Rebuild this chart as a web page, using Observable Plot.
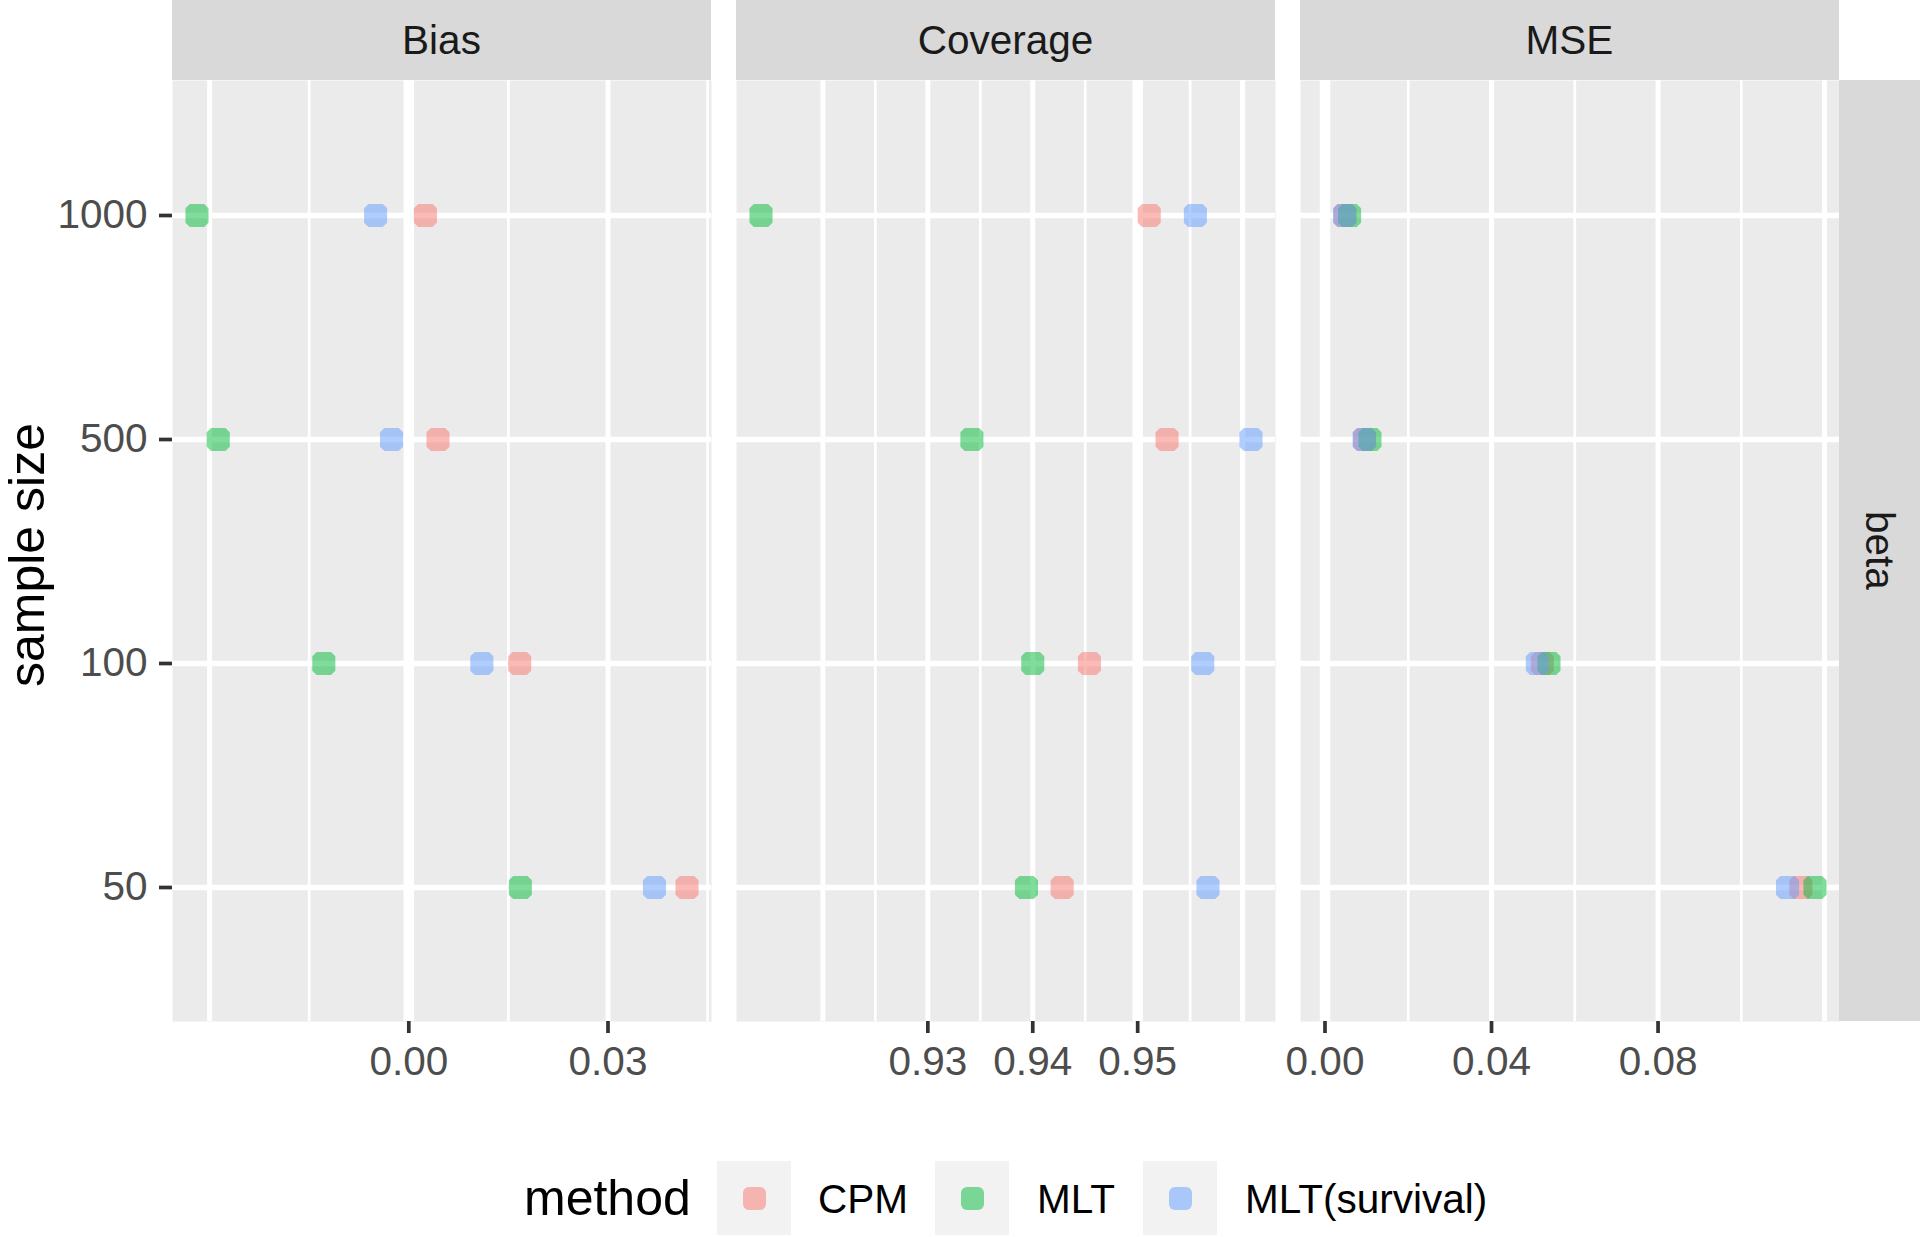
<!DOCTYPE html>
<html>
<head>
<meta charset="utf-8">
<script src="https://cdn.jsdelivr.net/npm/d3@7"></script>
<script src="https://cdn.jsdelivr.net/npm/@observablehq/plot@0.6"></script>
<style>
  html, body { margin: 0; padding: 0; background: #fff; }
  #chart { position: relative; width: 1920px; height: 1237px; overflow: hidden; font-family: "Liberation Sans", Arial, Helvetica, sans-serif; }
  .abs { position: absolute; }
  .strip { background: #D9D9D9; color: #1A1A1A; font-size: 40.5px; display: flex; align-items: center; justify-content: center; }
  .key { background: #F2F2F2; width: 74px; height: 74px; display: flex; align-items: center; justify-content: center; }
  .keydot { width: 23px; height: 23px; border-radius: 6px; }
  .legtext { font-size: 40.5px; color: #000; line-height: 1; }
  .vert { writing-mode: vertical-rl; white-space: nowrap; }
</style>
</head>
<body>
<div id="chart"></div>
<script>
// ---- data ----
const sampleSizes = ["1000", "500", "100", "50"];
const methods = ["CPM", "MLT", "MLT(survival)"];
const methodColors = ["#F8766D", "#00BA38", "#619CFF"];
const metrics = ["Bias", "Coverage", "MSE"];
const rowLabel = "beta";
const yTitle = "sample size";
const legendTitle = "method";

// values in the order of sampleSizes (1000, 500, 100, 50)
const biasCPM  = [0.0025, 0.0044, 0.0167, 0.0419];
const biasMLT  = [-0.0319, -0.0287, -0.0128, 0.0168];
const biasMLTs = [-0.0050, -0.0026, 0.0110, 0.0370];

const coverageCPM  = [0.9511, 0.9528, 0.9454, 0.9428];
const coverageMLT  = [0.9141, 0.9342, 0.9400, 0.9394];
const coverageMLTs = [0.9555, 0.9608, 0.9562, 0.9567];

const mseCPM  = [0.0048, 0.0095, 0.0522, 0.1143];
const mseMLT  = [0.0059, 0.0108, 0.0538, 0.1177];
const mseMLTs = [0.0047, 0.0094, 0.0510, 0.1111];

// axis ticks / grid
const biasTicks = [0, 0.03];
const biasMajor = [-0.03, 0, 0.03];
const biasMinor = [-0.015, 0.015, 0.045];
const biasRef = 0;

const coverageTicks = [0.93, 0.94, 0.95];
const coverageMajor = [0.92, 0.93, 0.94, 0.95, 0.96];
const coverageMinor = [0.925, 0.935, 0.945, 0.955];
const coverageRef = 0.95;

const mseTicks = [0, 0.04, 0.08];
const mseMajor = [0, 0.04, 0.08, 0.12];
const mseMinor = [0.02, 0.06, 0.10];
const mseRef = 0;

// ---- drawing ----
const roundSquare = {
  draw(ctx, size) {
    const h = Math.sqrt(size) / 2, c = h * 0.38;
    ctx.moveTo(-h + c, -h); ctx.lineTo(h - c, -h); ctx.lineTo(h, -h + c);
    ctx.lineTo(h, h - c); ctx.lineTo(h - c, h); ctx.lineTo(-h + c, h);
    ctx.lineTo(-h, h - c); ctx.lineTo(-h, -h + c); ctx.closePath();
  }
};

const chart = document.getElementById("chart");
const PANEL_TOP = 80, PANEL_BOTTOM = 1021, SVG_H = 1100, PANEL_W = 539;
const SMALL = 40.5, LARGE = 50;

function panel(cfg) {
  const rows = sampleSizes.flatMap((n, i) => methods.map((m, j) => ({n, method: m, value: cfg.series[j][i]})));
  const [lo, hi] = d3.extent(rows.map(d => d.value).concat([cfg.ref]));
  const pad = (hi - lo) * 0.05;
  const axisStyle = {stroke: "#333333", strokeWidth: 3.7, fill: "#4D4D4D", fontSize: SMALL};
  const svg = Plot.plot({
    width: cfg.marginLeft + PANEL_W,
    height: SVG_H,
    marginTop: PANEL_TOP,
    marginBottom: SVG_H - PANEL_BOTTOM,
    marginLeft: cfg.marginLeft,
    marginRight: 0,
    style: {fontFamily: '"Liberation Sans", Arial, Helvetica, sans-serif', fontSize: SMALL + "px", background: "transparent", overflow: "visible"},
    x: {domain: [lo - pad, hi + pad], label: null},
    y: {type: "point", domain: sampleSizes, padding: 0.6, label: null, axis: null},
    color: {domain: methods, range: methodColors},
    marks: [
      Plot.frame({fill: "#EBEBEB", stroke: "none"}),
      Plot.ruleX(cfg.minor, {stroke: "#fff", strokeWidth: 2.7}),
      Plot.ruleX(cfg.major, {stroke: "#fff", strokeWidth: 5}),
      Plot.ruleY(sampleSizes, {stroke: "#fff", strokeWidth: 5.5}),
      Plot.ruleX([cfg.ref], {stroke: "#fff", strokeWidth: 10.5}),
      Plot.dot(rows, {x: "value", y: "n", fill: "method", fillOpacity: 0.5, r: 13, symbol: roundSquare}),
      Plot.axisX({ticks: cfg.ticks, tickFormat: d3.format(".2f"), tickSize: 12, tickPadding: 13, label: null, ...axisStyle}),
      cfg.showY ? Plot.axisY({tickSize: 13, tickPadding: 12, label: null, ...axisStyle}) : null,
      cfg.showY ? Plot.text([yTitle], {text: d => d, frameAnchor: "left", textAnchor: "middle", rotate: -90, dx: -164, dy: 4, lineAnchor: "top", fontSize: LARGE, fill: "#000"}) : null
    ]
  });
  svg.style.position = "absolute";
  svg.style.left = cfg.left + "px";
  svg.style.top = "0px";
  chart.appendChild(svg);

  const strip = document.createElement("div");
  strip.className = "abs strip";
  strip.style.left = (cfg.left + cfg.marginLeft) + "px";
  strip.style.top = "0px";
  strip.style.width = PANEL_W + "px";
  strip.style.height = PANEL_TOP + "px";
  strip.textContent = cfg.title;
  chart.appendChild(strip);
}

panel({title: metrics[0], series: [biasCPM, biasMLT, biasMLTs], ticks: biasTicks, major: biasMajor, minor: biasMinor, ref: biasRef, left: 0, marginLeft: 172, showY: true});
panel({title: metrics[1], series: [coverageCPM, coverageMLT, coverageMLTs], ticks: coverageTicks, major: coverageMajor, minor: coverageMinor, ref: coverageRef, left: 700, marginLeft: 36, showY: false});
panel({title: metrics[2], series: [mseCPM, mseMLT, mseMLTs], ticks: mseTicks, major: mseMajor, minor: mseMinor, ref: mseRef, left: 1264, marginLeft: 36, showY: false});

// right strip
const rstrip = document.createElement("div");
rstrip.className = "abs strip";
rstrip.style.left = "1839px"; rstrip.style.top = PANEL_TOP + "px";
rstrip.style.width = "81px"; rstrip.style.height = (PANEL_BOTTOM - PANEL_TOP) + "px";
rstrip.innerHTML = `<span class="vert" style="line-height:1;">${rowLabel}</span>`;
chart.appendChild(rstrip);

// legend
const legTitle = document.createElement("div");
legTitle.className = "abs";
legTitle.style.cssText += `left:524px;top:1198px;transform:translateY(-50%);font-size:${LARGE}px;line-height:1;color:#000;`;
legTitle.textContent = legendTitle;
chart.appendChild(legTitle);

const keyLefts = [717, 935, 1143];
const textLefts = [818, 1037, 1245];
methods.forEach((m, i) => {
  const key = document.createElement("div");
  key.className = "abs key";
  key.style.left = keyLefts[i] + "px";
  key.style.top = "1161px";
  const dot = document.createElement("div");
  dot.className = "keydot";
  dot.style.background = methodColors[i];
  dot.style.opacity = 0.5;
  key.appendChild(dot);
  chart.appendChild(key);
  const t = document.createElement("div");
  t.className = "abs legtext";
  t.style.left = textLefts[i] + "px";
  t.style.top = "1199px";
  t.style.transform = "translateY(-50%)";
  t.textContent = m;
  chart.appendChild(t);
});
</script>
</body>
</html>
